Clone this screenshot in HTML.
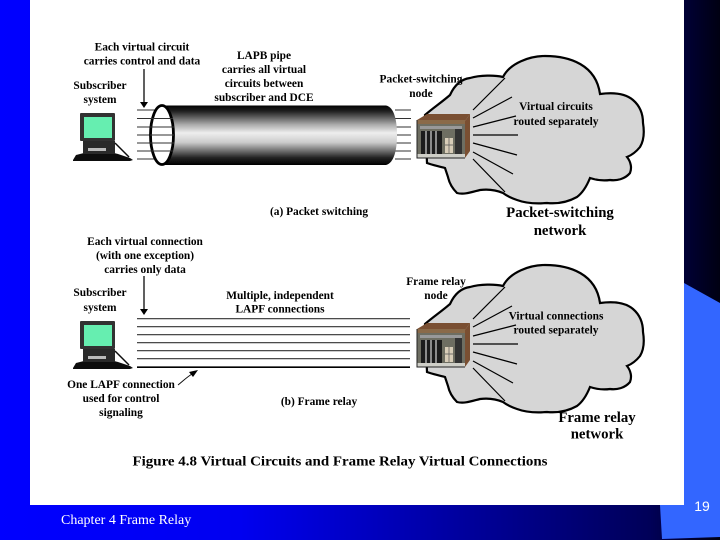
<!DOCTYPE html>
<html><head><meta charset="utf-8">
<style>
html,body{margin:0;padding:0;background:#00f}
#s{position:relative;width:720px;height:540px;overflow:hidden;background:linear-gradient(90deg,#0000ff 0,#0000f0 240px,#000058 650px,#000012 720px)}
svg{position:absolute;left:0;top:0}
text{font-family:"Liberation Serif",serif;font-weight:bold;font-size:11.4px;fill:#000;text-anchor:middle}
.b{font-size:14.8px;fill:#000}
</style></head><body><div id="s">
<svg width="720" height="540" viewBox="0 0 720 540">
<defs>
<linearGradient id="p" x1="0" y1="0" x2="0" y2="1">
<stop offset="0" stop-color="#000"/><stop offset=".1" stop-color="#222"/><stop offset=".32" stop-color="#aaa"/><stop offset=".46" stop-color="#eee"/><stop offset=".62" stop-color="#ccc"/><stop offset=".88" stop-color="#222"/><stop offset="1" stop-color="#000"/>
</linearGradient>
<filter id="soft" x="-5%" y="-5%" width="110%" height="110%"><feGaussianBlur stdDeviation="0.3"/></filter>
<g id="pc">
<path d="M73 160l3-5 8-2h30l4 1 12 4 3 2-3 1H73z" fill="#111"/>
<rect x="83" y="141" width="32" height="13" fill="#2a2a2a"/>
<rect x="88" y="148" width="18" height="3" fill="#bbb"/>
<path d="M115 143l14 14" stroke="#111" stroke-width="1.500" fill="none"/>
<rect x="80" y="113" width="35" height="28" rx="1" fill="#333"/>
<rect x="84" y="117" width="28" height="21" fill="#66eeb0"/>
</g>
<g id="cloud">
<path d="M450 95C455 84 462 79 470 78C480 75 495 75 503 77C510 63 530 56 545 56C570 56 596 65 600 94C615 92 626 94 633 100C640 106 643 114 643 123C645 135 643 142 640 147C636 152 632 155 627 157C631 162 632 168 630 173C625 179 617 181 610 180C603 181 596 180 590 178C586 188 581 194 577 197C568 202 557 204 547 203C535 204 525 203 517 200C511 198 507 196 503 193C496 190 488 189 480 190C472 192 464 195 457 193C452 188 449 182 448 177L445 168C438 166 432 165 427 163L425 115C433 108 442 102 450 95Z" fill="#d6d6d6" stroke="#000" stroke-width="2.200"/>
<g stroke="#000" stroke-width="1.200">
<path d="M473 110L505 78M473 118L512 97M473 127L516 116M473 135H518M473 143L517 155M473 152L513 174M473 159L505 192"/>
</g>
<path d="M417 120l10-6h43l-5 7z" fill="#7a5030"/>
<path d="M465 121l5-7v37l-5 7z" fill="#7a5030"/>
<rect x="417" y="120" width="48" height="38" fill="#6e6e62"/>
<rect x="417" y="120" width="48" height="4" fill="#8a6a48"/>
<rect x="417" y="154" width="48" height="4" fill="#cfcfc8"/>
<rect x="420" y="126" width="42" height="3" fill="#999"/>
<rect x="421" y="131" width="21" height="23" fill="#1e1e1e"/>
<path d="M426 131v23M431 131v23M436 131v23" stroke="#999" stroke-width="1.800"/>
<rect x="445" y="138" width="8" height="15" fill="#d8cdb8"/>
<path d="M449 138v15M445 145h8" stroke="#555" stroke-width=".7"/>
<rect x="455" y="129" width="7" height="25" fill="#333"/>
<path d="M417 120V158H465" stroke="#222" stroke-width="1" fill="none"/>
</g>
</defs>
<rect x="30" y="0" width="654" height="505" fill="#fff"/>
<path d="M684 283L720 303V537L662 539L660 505H684Z" fill="#3366ff"/>
<g filter="url(#soft)">
<use href="#cloud"/>
<use href="#cloud" y="209"/>
<use href="#pc"/>
<use href="#pc" y="208"/>
<g stroke="#333" stroke-width="1" fill="none">
<path d="M137 110H170M137 118.500H170M137 127H170M137 135H170M137 143H170M137 151H170M137 159H170"/>
<path d="M395 110H411M395 118.500H411M395 127H411M395 135H411M395 143H411M395 151H411M395 159H411"/>
</g>
<path d="M162 105.500H386C394 107 397 120 397 135C397 150 394 163 386 165H162Z" fill="url(#p)"/>
<ellipse cx="162" cy="135" rx="11.500" ry="29.500" fill="#fff" stroke="#000" stroke-width="2.800"/>
<g stroke="#333" stroke-width="1"><path d="M151 118.500H173M150 127H174M150 135H174M150 143H174M151 151H173"/></g>
<g stroke="#333" stroke-width="1.100"><path d="M137 318.700H410M137 326.700H410M137 334.700H410M137 342.700H410M137 350.700H410M137 358.700H410"/></g>
<path d="M137 367.200H410" stroke="#000" stroke-width="1.700"/>
<path d="M144 69V102M144 276V309" stroke="#111" stroke-width="1.300"/>
<path d="M140 102h8l-4 6zM140 309h8l-4 6z" fill="#000"/>
<path d="M178 385C183 381 187 377 192 374" stroke="#111" stroke-width="1" fill="none"/>
<path d="M198 370l-9 2 4 5z" fill="#000"/>
<text x="142" y="50.500">Each virtual circuit</text>
<text x="142" y="64.500">carries control and data</text>
<text x="100" y="89">Subscriber</text>
<text x="100" y="103">system</text>
<text x="264" y="59">LAPB pipe</text>
<text x="264" y="73">carries all virtual</text>
<text x="264" y="87">circuits between</text>
<text x="264" y="101">subscriber and DCE</text>
<text x="421" y="82.500">Packet-switching</text>
<text x="421" y="97">node</text>
<text x="556" y="110">Virtual circuits</text>
<text x="556" y="125">routed separately</text>
<text x="319" y="215">(a) Packet switching</text>
<text class="b" x="560" y="217">Packet-switching</text>
<text class="b" x="560" y="235">network</text>
<text x="145" y="245">Each virtual connection</text>
<text x="145" y="259">(with one exception)</text>
<text x="145" y="273">carries only data</text>
<text x="100" y="296">Subscriber</text>
<text x="100" y="311">system</text>
<text x="280" y="299">Multiple, independent</text>
<text x="280" y="312.500">LAPF connections</text>
<text x="436" y="285">Frame relay</text>
<text x="436" y="299">node</text>
<text x="556" y="319.500">Virtual connections</text>
<text x="556" y="333.500">routed separately</text>
<text x="319" y="405">(b) Frame relay</text>
<text class="b" x="597" y="422">Frame relay</text>
<text class="b" x="597" y="438.500">network</text>
<text x="121" y="388">One LAPF connection</text>
<text x="121" y="402">used for control</text>
<text x="121" y="416">signaling</text>
<text x="340" y="465.500" style="font-size:14px" textLength="415" lengthAdjust="spacingAndGlyphs">Figure 4.8 Virtual Circuits and Frame Relay Virtual Connections</text>
</g>
<text x="61" y="524" style="font-weight:normal;font-size:14px;fill:#fff;text-anchor:start">Chapter 4 Frame Relay</text>
<text x="702" y="511" style="font-family:'Liberation Sans',sans-serif;font-weight:normal;font-size:14px;fill:#fff">19</text>
</svg>
</div></body></html>
